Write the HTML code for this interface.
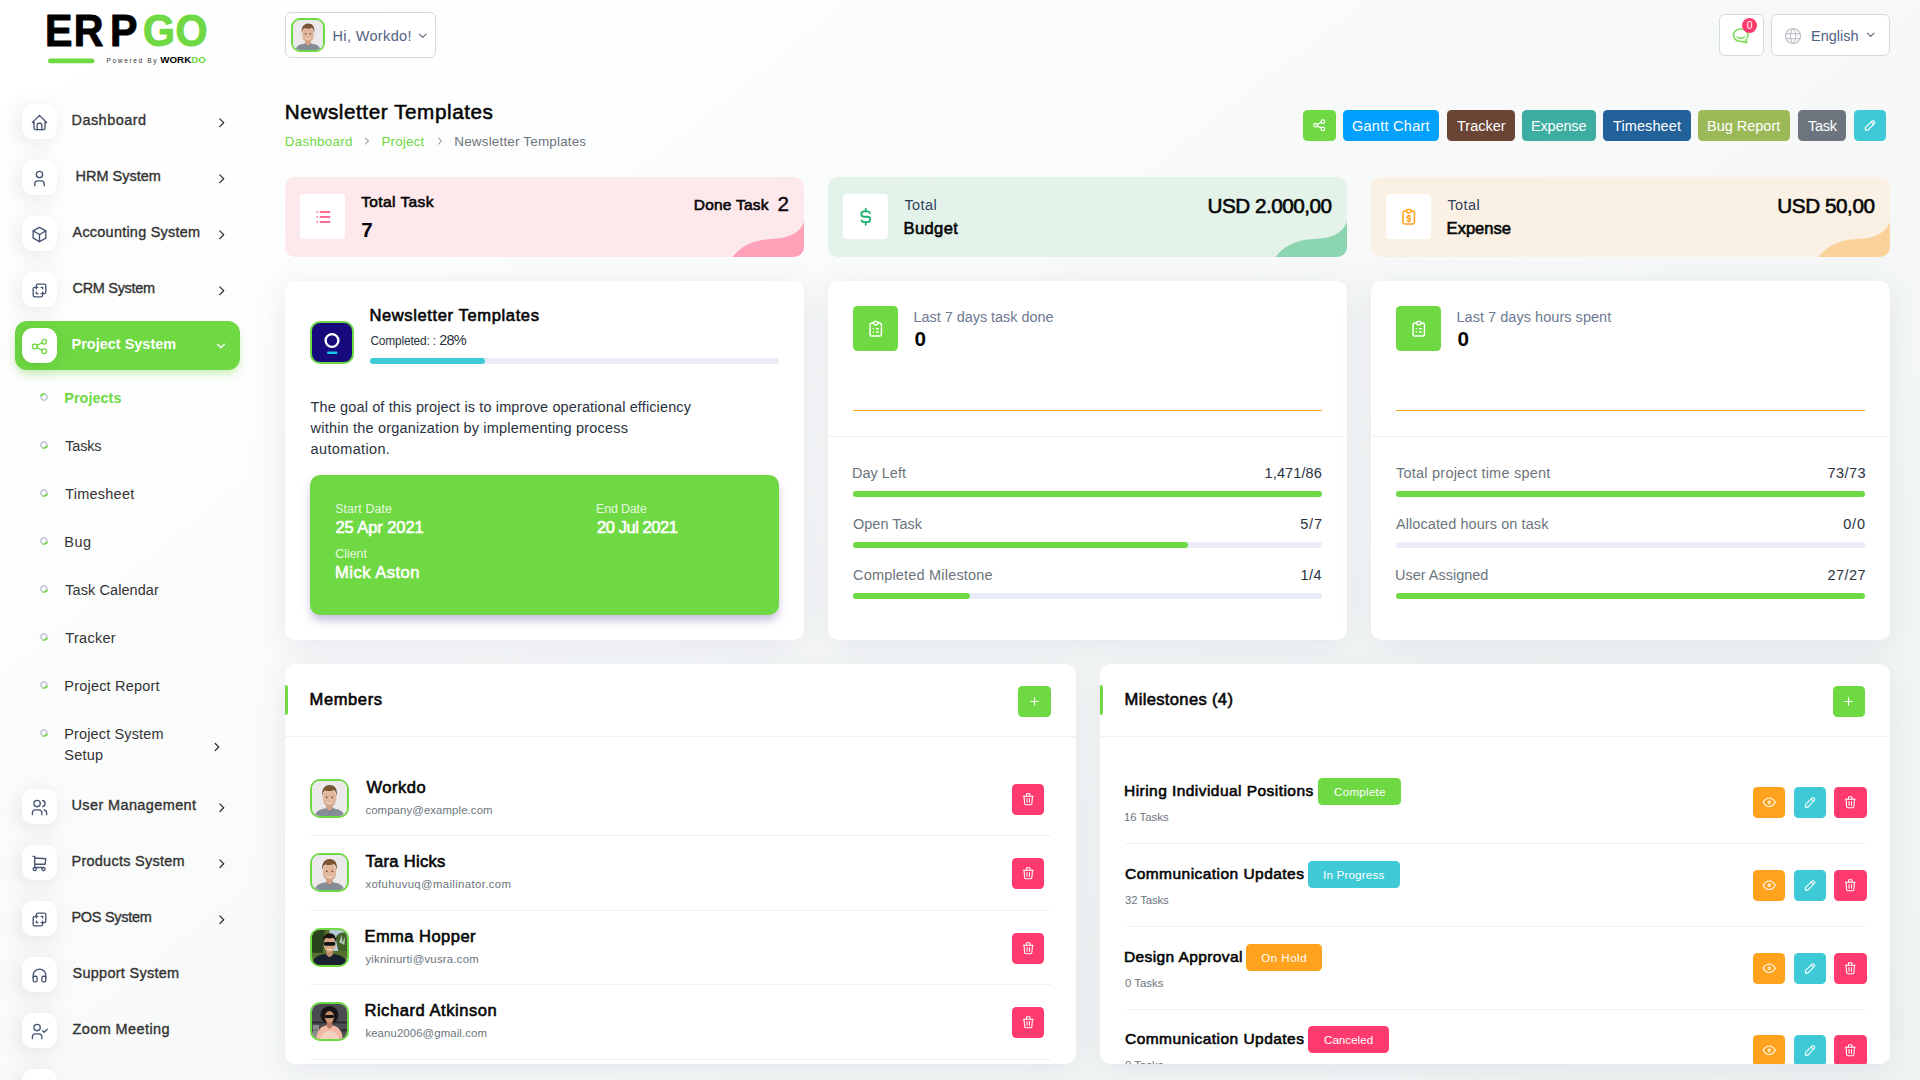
<!DOCTYPE html>
<html lang="en"><head><meta charset="utf-8"><title>Newsletter Templates</title><style>
html,body{margin:0;padding:0}
body{width:1920px;height:1080px;overflow:hidden;position:relative;font-family:"Liberation Sans",sans-serif;
background:linear-gradient(141.55deg,rgba(240,244,243,0) 3.46%,#f0f4f3 99.86%),#fff}
.b{position:absolute;display:block}
.t{position:absolute;white-space:nowrap;line-height:20px;display:block}
.ic{position:absolute;display:block;line-height:0}
.ic svg{display:block}
</style></head>
<body>
<svg class="b" style="left:40px;top:8px" width="180" height="64" viewBox="40 8 180 64"><g font-family="Liberation Sans, sans-serif" font-weight="700" stroke-linejoin="round"><text transform="translate(45 45.900) scale(.945 1)" font-size="43.500" stroke-width="1" dx="0 1.481 6.878 5.794 .661" fill="#000" stroke="#000">ERP<tspan fill="#6fd943" stroke="#6fd943">GO</tspan></text><text x="106.500" y="63" font-size="6.600" font-weight="400" textLength="50" lengthAdjust="spacing" fill="#333">Powered By</text><text x="160.300" y="63.400" font-size="8.200" textLength="45.500" lengthAdjust="spacingAndGlyphs" fill="#000">WORK<tspan fill="#6fd943">DO</tspan></text></g><rect x="48" y="58.600" width="46.500" height="4.600" rx="2.300" fill="#6fd943"/></svg>
<div class="b" style="left:22px;top:104px;width:35px;height:35px;background:#fff;border-radius:11px;box-shadow:-3px 4px 23px rgba(0,0,0,.1)"></div>
<span class="ic" style="left:30.00px;top:112.50px;width:19px;height:19px;color:#465573"><svg width="19" height="19" viewBox="0 0 24 24" fill="none" stroke="currentColor" stroke-width="1.7" stroke-linecap="round" stroke-linejoin="round" ><path d="M5 12H3l9-9 9 9h-2"/><path d="M5 12v7a2 2 0 0 0 2 2h10a2 2 0 0 0 2-2v-7"/><path d="M9 21v-6a2 2 0 0 1 2-2h2a2 2 0 0 1 2 2v6"/></svg></span>
<span class="t" id="n0" style="left:71.50px;top:110px;font-size:14.49px;color:#333;-webkit-text-stroke:.35px #333;letter-spacing:0.453px;">Dashboard</span>
<span class="ic" style="left:214.25px;top:114.95px;width:15.5px;height:15.5px;color:#333"><svg width="15.5" height="15.5" viewBox="0 0 24 24" fill="none" stroke="currentColor" stroke-width="2.1" stroke-linecap="round" stroke-linejoin="round" ><path d="M9 6l6 6-6 6"/></svg></span>
<div class="b" style="left:22px;top:160px;width:35px;height:35px;background:#fff;border-radius:11px;box-shadow:-3px 4px 23px rgba(0,0,0,.1)"></div>
<span class="ic" style="left:30.00px;top:168.50px;width:19px;height:19px;color:#465573"><svg width="19" height="19" viewBox="0 0 24 24" fill="none" stroke="currentColor" stroke-width="1.7" stroke-linecap="round" stroke-linejoin="round" ><circle cx="12" cy="7" r="4"/><path d="M6 21v-2a4 4 0 0 1 4-4h4a4 4 0 0 1 4 4v2"/></svg></span>
<span class="t" id="n1" style="left:75.50px;top:166px;font-size:14.49px;color:#333;-webkit-text-stroke:.35px #333;">HRM System</span>
<span class="ic" style="left:214.25px;top:170.95px;width:15.5px;height:15.5px;color:#333"><svg width="15.5" height="15.5" viewBox="0 0 24 24" fill="none" stroke="currentColor" stroke-width="2.1" stroke-linecap="round" stroke-linejoin="round" ><path d="M9 6l6 6-6 6"/></svg></span>
<div class="b" style="left:22px;top:216px;width:35px;height:35px;background:#fff;border-radius:11px;box-shadow:-3px 4px 23px rgba(0,0,0,.1)"></div>
<span class="ic" style="left:30.00px;top:224.50px;width:19px;height:19px;color:#465573"><svg width="19" height="19" viewBox="0 0 24 24" fill="none" stroke="currentColor" stroke-width="1.7" stroke-linecap="round" stroke-linejoin="round" ><path d="M12 3l8 4.5v9L12 21l-8-4.5v-9L12 3"/><path d="M12 12l8-4.5"/><path d="M12 12v9"/><path d="M12 12L4 7.500"/></svg></span>
<span class="t" id="n2" style="left:72.50px;top:222px;font-size:14.49px;color:#333;-webkit-text-stroke:.35px #333;letter-spacing:0.225px;">Accounting System</span>
<span class="ic" style="left:214.25px;top:226.95px;width:15.5px;height:15.5px;color:#333"><svg width="15.5" height="15.5" viewBox="0 0 24 24" fill="none" stroke="currentColor" stroke-width="2.1" stroke-linecap="round" stroke-linejoin="round" ><path d="M9 6l6 6-6 6"/></svg></span>
<div class="b" style="left:22px;top:272px;width:35px;height:35px;background:#fff;border-radius:11px;box-shadow:-3px 4px 23px rgba(0,0,0,.1)"></div>
<span class="ic" style="left:30.00px;top:280.50px;width:19px;height:19px;color:#465573"><svg width="19" height="19" viewBox="0 0 24 24" fill="none" stroke="currentColor" stroke-width="1.7" stroke-linecap="round" stroke-linejoin="round" ><path d="M16 16v2a2 2 0 0 1-2 2H6a2 2 0 0 1-2-2v-8a2 2 0 0 1 2-2h2V6a2 2 0 0 1 2-2h8a2 2 0 0 1 2 2v8a2 2 0 0 1-2 2h-2"/><path d="M10 8H8v2"/><path d="M8 14v2h2"/><path d="M14 8h2v2"/><path d="M16 14v2h-2"/></svg></span>
<span class="t" id="n3" style="left:72.50px;top:278px;font-size:14.49px;color:#333;-webkit-text-stroke:.35px #333;letter-spacing:-0.300px;">CRM System</span>
<span class="ic" style="left:214.25px;top:282.95px;width:15.5px;height:15.5px;color:#333"><svg width="15.5" height="15.5" viewBox="0 0 24 24" fill="none" stroke="currentColor" stroke-width="2.1" stroke-linecap="round" stroke-linejoin="round" ><path d="M9 6l6 6-6 6"/></svg></span>
<div class="b" style="left:15px;top:321px;width:225px;height:49px;background:#6fd943;border-radius:12px;box-shadow:0 5px 7px -1px rgba(111,217,67,.35)"></div>
<div class="b" style="left:22px;top:328px;width:35px;height:35px;background:#fff;border-radius:11px;box-shadow:-3px 4px 23px rgba(0,0,0,.1)"></div>
<span class="ic" style="left:30.00px;top:336.50px;width:19px;height:19px;color:#6fd943"><svg width="19" height="19" viewBox="0 0 24 24" fill="none" stroke="currentColor" stroke-width="1.7" stroke-linecap="round" stroke-linejoin="round" ><circle cx="6" cy="12" r="3"/><circle cx="18" cy="6" r="3"/><circle cx="18" cy="18" r="3"/><path d="M8.700 10.700l6.600-3.400"/><path d="M8.700 13.300l6.600 3.400"/></svg></span>
<span class="t" id="n4" style="left:71.50px;top:334px;font-size:14.49px;color:#fff;font-weight:700;">Project System</span>
<span class="ic" style="left:213.50px;top:338.50px;width:14px;height:14px;color:#fff"><svg width="14" height="14" viewBox="0 0 24 24" fill="none" stroke="currentColor" stroke-width="2.2" stroke-linecap="round" stroke-linejoin="round" ><path d="M6 9l6 6 6-6"/></svg></span>
<div class="b" style="left:40px;top:393.15px;width:8px;height:8px;border:2px solid #c9cfdd;border-radius:50%;box-sizing:border-box;border-top-color:#6fd943;transform:rotate(-35deg)"></div>
<span class="t" id="s0" style="left:64.30px;top:388px;font-size:14.49px;color:#6fd943;font-weight:700;">Projects</span>
<div class="b" style="left:40px;top:441.15px;width:8px;height:8px;border:2px solid #c9cfdd;border-radius:50%;box-sizing:border-box;border-bottom-color:#6fd943;transform:rotate(-35deg)"></div>
<span class="t" id="s1" style="left:65.30px;top:436px;font-size:14.49px;color:#333;letter-spacing:-0.225px;">Tasks</span>
<div class="b" style="left:40px;top:489.15px;width:8px;height:8px;border:2px solid #c9cfdd;border-radius:50%;box-sizing:border-box;border-bottom-color:#6fd943;transform:rotate(-35deg)"></div>
<span class="t" id="s2" style="left:65.30px;top:484px;font-size:14.49px;color:#333;letter-spacing:0.229px;">Timesheet</span>
<div class="b" style="left:40px;top:537.15px;width:8px;height:8px;border:2px solid #c9cfdd;border-radius:50%;box-sizing:border-box;border-bottom-color:#6fd943;transform:rotate(-35deg)"></div>
<span class="t" id="s3" style="left:64.30px;top:532px;font-size:14.49px;color:#333;letter-spacing:0.450px;">Bug</span>
<div class="b" style="left:40px;top:585.15px;width:8px;height:8px;border:2px solid #c9cfdd;border-radius:50%;box-sizing:border-box;border-bottom-color:#6fd943;transform:rotate(-35deg)"></div>
<span class="t" id="s4" style="left:65.30px;top:580px;font-size:14.49px;color:#333;letter-spacing:0.073px;">Task Calendar</span>
<div class="b" style="left:40px;top:633.15px;width:8px;height:8px;border:2px solid #c9cfdd;border-radius:50%;box-sizing:border-box;border-bottom-color:#6fd943;transform:rotate(-35deg)"></div>
<span class="t" id="s5" style="left:65.30px;top:628px;font-size:14.49px;color:#333;letter-spacing:0.300px;">Tracker</span>
<div class="b" style="left:40px;top:681.15px;width:8px;height:8px;border:2px solid #c9cfdd;border-radius:50%;box-sizing:border-box;border-bottom-color:#6fd943;transform:rotate(-35deg)"></div>
<span class="t" id="s6" style="left:64.30px;top:676px;font-size:14.49px;color:#333;letter-spacing:0.208px;">Project Report</span>
<div class="b" style="left:40px;top:729.15px;width:8px;height:8px;border:2px solid #c9cfdd;border-radius:50%;box-sizing:border-box;border-bottom-color:#6fd943;transform:rotate(-35deg)"></div>
<span class="t" id="s7" style="left:64.30px;top:724px;font-size:14.49px;color:#333;letter-spacing:0.139px;">Project System</span>
<span class="t" id="s8" style="left:64.30px;top:745px;font-size:14.49px;color:#333;letter-spacing:0.230px;">Setup</span>
<span class="ic" style="left:210.00px;top:740.00px;width:14px;height:14px;color:#333"><svg width="14" height="14" viewBox="0 0 24 24" fill="none" stroke="currentColor" stroke-width="2.2" stroke-linecap="round" stroke-linejoin="round" ><path d="M9 6l6 6-6 6"/></svg></span>
<div class="b" style="left:22px;top:789px;width:35px;height:35px;background:#fff;border-radius:11px;box-shadow:-3px 4px 23px rgba(0,0,0,.1)"></div>
<span class="ic" style="left:30.00px;top:797.50px;width:19px;height:19px;color:#465573"><svg width="19" height="19" viewBox="0 0 24 24" fill="none" stroke="currentColor" stroke-width="1.7" stroke-linecap="round" stroke-linejoin="round" ><circle cx="9" cy="7" r="4"/><path d="M3 21v-2a4 4 0 0 1 4-4h4a4 4 0 0 1 4 4v2"/><path d="M16 3.130a4 4 0 0 1 0 7.750"/><path d="M21 21v-2a4 4 0 0 0-3-3.850"/></svg></span>
<span class="t" id="n5" style="left:71.50px;top:795px;font-size:14.49px;color:#333;-webkit-text-stroke:.35px #333;letter-spacing:0.385px;">User Management</span>
<span class="ic" style="left:214.25px;top:799.95px;width:15.5px;height:15.5px;color:#333"><svg width="15.5" height="15.5" viewBox="0 0 24 24" fill="none" stroke="currentColor" stroke-width="2.1" stroke-linecap="round" stroke-linejoin="round" ><path d="M9 6l6 6-6 6"/></svg></span>
<div class="b" style="left:22px;top:845px;width:35px;height:35px;background:#fff;border-radius:11px;box-shadow:-3px 4px 23px rgba(0,0,0,.1)"></div>
<span class="ic" style="left:30.00px;top:853.50px;width:19px;height:19px;color:#465573"><svg width="19" height="19" viewBox="0 0 24 24" fill="none" stroke="currentColor" stroke-width="1.7" stroke-linecap="round" stroke-linejoin="round" ><circle cx="6" cy="19" r="2"/><circle cx="17" cy="19" r="2"/><path d="M17 17H6V3H4"/><path d="M6 5l14 1-1 7H6"/></svg></span>
<span class="t" id="n6" style="left:71.50px;top:851px;font-size:14.49px;color:#333;-webkit-text-stroke:.35px #333;letter-spacing:0.257px;">Products System</span>
<span class="ic" style="left:214.25px;top:855.95px;width:15.5px;height:15.5px;color:#333"><svg width="15.5" height="15.5" viewBox="0 0 24 24" fill="none" stroke="currentColor" stroke-width="2.1" stroke-linecap="round" stroke-linejoin="round" ><path d="M9 6l6 6-6 6"/></svg></span>
<div class="b" style="left:22px;top:901px;width:35px;height:35px;background:#fff;border-radius:11px;box-shadow:-3px 4px 23px rgba(0,0,0,.1)"></div>
<span class="ic" style="left:30.00px;top:909.50px;width:19px;height:19px;color:#465573"><svg width="19" height="19" viewBox="0 0 24 24" fill="none" stroke="currentColor" stroke-width="1.7" stroke-linecap="round" stroke-linejoin="round" ><path d="M16 16v2a2 2 0 0 1-2 2H6a2 2 0 0 1-2-2v-8a2 2 0 0 1 2-2h2V6a2 2 0 0 1 2-2h8a2 2 0 0 1 2 2v8a2 2 0 0 1-2 2h-2"/><path d="M10 8H8v2"/><path d="M8 14v2h2"/><path d="M14 8h2v2"/><path d="M16 14v2h-2"/></svg></span>
<span class="t" id="n7" style="left:71.50px;top:907px;font-size:14.49px;color:#333;-webkit-text-stroke:.35px #333;letter-spacing:-0.300px;">POS System</span>
<span class="ic" style="left:214.25px;top:911.95px;width:15.5px;height:15.5px;color:#333"><svg width="15.5" height="15.5" viewBox="0 0 24 24" fill="none" stroke="currentColor" stroke-width="2.1" stroke-linecap="round" stroke-linejoin="round" ><path d="M9 6l6 6-6 6"/></svg></span>
<div class="b" style="left:22px;top:957px;width:35px;height:35px;background:#fff;border-radius:11px;box-shadow:-3px 4px 23px rgba(0,0,0,.1)"></div>
<span class="ic" style="left:30.00px;top:965.50px;width:19px;height:19px;color:#465573"><svg width="19" height="19" viewBox="0 0 24 24" fill="none" stroke="currentColor" stroke-width="1.7" stroke-linecap="round" stroke-linejoin="round" ><rect x="4" y="13" width="5" height="7" rx="2"/><rect x="15" y="13" width="5" height="7" rx="2"/><path d="M4 15v-3a8 8 0 0 1 16 0v3"/></svg></span>
<span class="t" id="n8" style="left:72.50px;top:963px;font-size:14.49px;color:#333;-webkit-text-stroke:.35px #333;letter-spacing:0.277px;">Support System</span>
<div class="b" style="left:22px;top:1013px;width:35px;height:35px;background:#fff;border-radius:11px;box-shadow:-3px 4px 23px rgba(0,0,0,.1)"></div>
<span class="ic" style="left:30.00px;top:1021.50px;width:19px;height:19px;color:#465573"><svg width="19" height="19" viewBox="0 0 24 24" fill="none" stroke="currentColor" stroke-width="1.7" stroke-linecap="round" stroke-linejoin="round" ><circle cx="9" cy="7" r="4"/><path d="M3 21v-2a4 4 0 0 1 4-4h4a4 4 0 0 1 4 4v2"/><path d="M16 11l2 2 4-4"/></svg></span>
<span class="t" id="n9" style="left:72.50px;top:1019px;font-size:14.49px;color:#333;-webkit-text-stroke:.35px #333;letter-spacing:0.412px;">Zoom Meeting</span>
<div class="b" style="left:22px;top:1069px;width:35px;height:35px;background:#fff;border-radius:11px;box-shadow:-3px 4px 23px rgba(0,0,0,.1)"></div>
<div class="b" style="left:285px;top:12px;width:151px;height:45.5px;background:#fff;border:1px solid #d5d9e4;border-radius:6px;box-sizing:border-box"></div>
<div class="b" style="left:291px;top:18px;width:34px;height:34px;border:2px solid #6fd943;border-radius:9px;overflow:hidden;box-sizing:border-box;background:#eee"><svg width="30" height="30" viewBox="0 0 40 40"><rect width="40" height="40" fill="#ebe9e9"/><path d="M3.500 40c.5-6 6.500-8.800 16.500-8.800s16 2.800 16.500 8.800z" fill="#868d99"/><path d="M15.500 31.500l4.500 4.500 4.500-4.500-1-1.500h-7z" fill="#6f7682"/><path d="M16.300 25h7.400v6.500l-3.700 3-3.700-3z" fill="#d3a187"/><ellipse cx="20" cy="19.300" rx="7.700" ry="9.800" fill="#e2b69b"/><path d="M11.800 17.500c-1.200-8.500 2.800-13 8.400-13 5.700 0 9.400 4.300 8 13-.6-3.700-1.500-5.800-3-6.800-3 1-7.200 1-10.200.2-1.700 1.100-2.600 3.100-3.200 6.600z" fill="#7a5533"/><ellipse cx="16.800" cy="18.600" rx="1.100" ry=".8" fill="#5b4232"/><ellipse cx="23.200" cy="18.600" rx="1.100" ry=".8" fill="#5b4232"/><path d="M16 23.800c2.400 2 5.600 2 8 0-1 3-7 3-8 0z" fill="#fff"/><path d="M12.500 20c-.5 5 2.500 9.300 7.500 9.300s8-4.300 7.500-9.300c-.3 4-3 6.800-7.500 6.800s-7.200-2.800-7.500-6.800z" fill="#c99a80" opacity=".55"/></svg></div>
<span class="t" id="hi" style="left:332.50px;top:26px;font-size:14.49px;color:#4f6184;letter-spacing:0.360px;">Hi, Workdo!</span>
<span class="ic" style="left:416.05px;top:28.75px;width:13.5px;height:13.5px;color:#56647f"><svg width="13.5" height="13.5" viewBox="0 0 24 24" fill="none" stroke="currentColor" stroke-width="1.9" stroke-linecap="round" stroke-linejoin="round" ><path d="M6 9l6 6 6-6"/></svg></span>
<div class="b" style="left:1719px;top:14px;width:45px;height:42px;background:#fff;border:1px solid #d5d9e4;border-radius:6px;box-sizing:border-box"></div>
<span class="ic" style="left:1731.45px;top:26.45px;width:19.5px;height:19.5px;color:#6fd943"><svg width="19.5" height="19.5" viewBox="0 0 24 24" fill="none" stroke="currentColor" stroke-width="1.7" stroke-linecap="round" stroke-linejoin="round" ><path d="M17.802 17.292s.077-.055.200-.149c1.843-1.425 3-3.490 3-5.789 0-4.286-4.030-7.764-9-7.764s-9 3.478-9 7.764c0 4.288 4.030 7.646 9 7.646.424 0 1.120-.028 2.088-.084 1.262.820 3.104 1.493 4.716 1.493.499 0 .734-.410.414-.828-.486-.596-1.156-1.551-1.416-2.290z"/><path d="M7.500 13.500c2.500 2.500 6.500 2.500 9 0"/></svg></span>
<div class="b" style="left:1742px;top:18px;width:15.3px;height:15.3px;background:#ff3a6e;border-radius:50%"></div>
<span class="t" id="bd" style="left:1746.80px;top:16px;font-size:10.35px;color:#fff;">0</span>
<div class="b" style="left:1771px;top:14px;width:119px;height:42px;background:#fff;border:1px solid #d5d9e4;border-radius:6px;box-sizing:border-box"></div>
<span class="ic" style="left:1783.40px;top:26.10px;width:20px;height:20px;color:#c3c4cc"><svg width="20" height="20" viewBox="0 0 24 24" fill="none" stroke="currentColor" stroke-width="1.5" stroke-linecap="round" stroke-linejoin="round" ><circle cx="12" cy="12" r="9"/><path d="M3.600 9h16.800"/><path d="M3.600 15h16.800"/><path d="M11.500 3a17 17 0 0 0 0 18"/><path d="M12.500 3a17 17 0 0 1 0 18"/></svg></span>
<span class="t" id="en" style="left:1811.00px;top:26px;font-size:14.49px;color:#4f6184;">English</span>
<span class="ic" style="left:1863.55px;top:28.05px;width:13.5px;height:13.5px;color:#56647f"><svg width="13.5" height="13.5" viewBox="0 0 24 24" fill="none" stroke="currentColor" stroke-width="1.9" stroke-linecap="round" stroke-linejoin="round" ><path d="M6 9l6 6 6-6"/></svg></span>
<span class="t" id="title" style="left:284.80px;top:102px;font-size:20.7px;color:#060606;letter-spacing:0.568px;-webkit-text-stroke:.55px #060606;">Newsletter Templates</span>
<span class="t" id="bc1" style="left:284.80px;top:132px;font-size:13.45px;color:#6fd943;letter-spacing:0.229px;">Dashboard</span>
<span class="ic" style="left:361.00px;top:135.00px;width:12px;height:12px;color:#6c757d"><svg width="12" height="12" viewBox="0 0 24 24" fill="none" stroke="currentColor" stroke-width="2" stroke-linecap="round" stroke-linejoin="round" ><path d="M9 6l6 6-6 6"/></svg></span>
<span class="t" id="bc2" style="left:381.40px;top:132px;font-size:13.45px;color:#6fd943;letter-spacing:0.150px;">Project</span>
<span class="ic" style="left:434.00px;top:135.00px;width:12px;height:12px;color:#6c757d"><svg width="12" height="12" viewBox="0 0 24 24" fill="none" stroke="currentColor" stroke-width="2" stroke-linecap="round" stroke-linejoin="round" ><path d="M9 6l6 6-6 6"/></svg></span>
<span class="t" id="bc3" style="left:454.30px;top:132px;font-size:13.45px;color:#6c757d;letter-spacing:0.189px;">Newsletter Templates</span>
<div class="b" style="left:1303px;top:110px;width:33px;height:31px;background:#6fd943;border-radius:4.500px"></div>
<span class="ic" style="left:1312.25px;top:118.25px;width:14.5px;height:14.5px;color:#fff"><svg width="14.5" height="14.5" viewBox="0 0 24 24" fill="none" stroke="currentColor" stroke-width="2" stroke-linecap="round" stroke-linejoin="round" ><circle cx="6" cy="12" r="3"/><circle cx="18" cy="6" r="3"/><circle cx="18" cy="18" r="3"/><path d="M8.700 10.700l6.600-3.400"/><path d="M8.700 13.300l6.600 3.400"/></svg></span>
<div class="b" style="left:1343px;top:110px;width:96px;height:31px;background:#00a0ff;border-radius:4.500px"></div>
<span class="t" id="b1" style="left:1352.00px;top:116px;font-size:14.49px;color:#fff;letter-spacing:0.270px;">Gantt Chart</span>
<div class="b" style="left:1447px;top:110px;width:68px;height:31px;background:#6a4536;border-radius:4.500px"></div>
<span class="t" id="b2" style="left:1457.00px;top:116px;font-size:14.49px;color:#fff;">Tracker</span>
<div class="b" style="left:1522px;top:110px;width:74px;height:31px;background:#3eada1;border-radius:4.500px"></div>
<span class="t" id="b3" style="left:1531.00px;top:116px;font-size:14.49px;color:#fff;letter-spacing:-0.150px;">Expense</span>
<div class="b" style="left:1603px;top:110px;width:88px;height:31px;background:#226199;border-radius:4.500px"></div>
<span class="t" id="b4" style="left:1613.00px;top:116px;font-size:14.49px;color:#fff;letter-spacing:0.113px;">Timesheet</span>
<div class="b" style="left:1698px;top:110px;width:92px;height:31px;background:#9bb957;border-radius:4.500px"></div>
<span class="t" id="b5" style="left:1707.00px;top:116px;font-size:14.49px;color:#fff;">Bug Report</span>
<div class="b" style="left:1798px;top:110px;width:48px;height:31px;background:#6c757d;border-radius:4.500px"></div>
<span class="t" id="b6" style="left:1808.00px;top:116px;font-size:14.49px;color:#fff;letter-spacing:-0.300px;">Task</span>
<div class="b" style="left:1854px;top:110px;width:32px;height:31px;background:#3ec9d6;border-radius:4.500px"></div>
<span class="ic" style="left:1862.75px;top:118.25px;width:14.5px;height:14.5px;color:#fff"><svg width="14.5" height="14.5" viewBox="0 0 24 24" fill="none" stroke="currentColor" stroke-width="2" stroke-linecap="round" stroke-linejoin="round" ><path d="M4 20h4L18.500 9.500a1.500 1.500 0 0 0-4-4L4 16v4"/><path d="M13.500 6.500l4 4"/></svg></span>
<div class="b" style="left:285px;top:177px;width:519px;height:80px;background:#fde8ec;border-radius:10px;overflow:hidden"><svg class="b" style="left:0;top:0" width="519" height="80" viewBox="0 0 519 80"><path d="M447.500 80C458 66 473 62.500 489 61.800c15-.7 25.500-5.800 30-16.800V80z" fill="#ffa2b9"/></svg></div>
<div class="b" style="left:300px;top:194px;width:45px;height:45px;background:#fff;border-radius:4px"></div>
<span class="ic" style="left:312.70px;top:206.50px;width:20px;height:20px;color:#ff3a6e"><svg width="20" height="20" viewBox="0 0 24 24" fill="none" stroke="currentColor" stroke-width="2" stroke-linecap="round" stroke-linejoin="round" ><path d="M9 6h11"/><path d="M9 12h11"/><path d="M9 18h11"/><path d="M5 6v.01"/><path d="M5 12v.01"/><path d="M5 18v.01"/></svg></span>
<div class="b" style="left:828px;top:177px;width:519px;height:80px;background:#e3f3ea;border-radius:10px;overflow:hidden"><svg class="b" style="left:0;top:0" width="519" height="80" viewBox="0 0 519 80"><path d="M447.500 80C458 66 473 62.500 489 61.800c15-.7 25.500-5.800 30-16.800V80z" fill="#8bd5b0"/></svg></div>
<div class="b" style="left:843px;top:194px;width:45px;height:45px;background:#fff;border-radius:4px"></div>
<span class="ic" style="left:854.95px;top:205.75px;width:21.5px;height:21.5px;color:#1cb06f"><svg width="21.5" height="21.5" viewBox="0 0 24 24" fill="none" stroke="currentColor" stroke-width="2" stroke-linecap="round" stroke-linejoin="round" ><path d="M16.700 8a3 3 0 0 0-2.700-2h-4a3 3 0 0 0 0 6h4a3 3 0 0 1 0 6h-4a3 3 0 0 1-2.700-2"/><path d="M12 3v3m0 12v3"/></svg></span>
<div class="b" style="left:1371px;top:177px;width:519px;height:80px;background:#faf1e4;border-radius:10px;overflow:hidden"><svg class="b" style="left:0;top:0" width="519" height="80" viewBox="0 0 519 80"><path d="M447.500 80C458 66 473 62.500 489 61.800c15-.7 25.500-5.800 30-16.800V80z" fill="#fad29a"/></svg></div>
<div class="b" style="left:1386px;top:194px;width:45px;height:45px;background:#fff;border-radius:4px"></div>
<span class="ic" style="left:1398.95px;top:206.75px;width:19.5px;height:19.5px;color:#ffa21d"><svg width="19.5" height="19.5" viewBox="0 0 24 24" fill="none" stroke="currentColor" stroke-width="1.9" stroke-linecap="round" stroke-linejoin="round" ><path d="M9 5H7a2 2 0 0 0-2 2v12a2 2 0 0 0 2 2h10a2 2 0 0 0 2-2V7a2 2 0 0 0-2-2h-2"/><rect x="9" y="3" width="6" height="4" rx="2"/><path d="M14 11h-2.500a1.500 1.500 0 0 0 0 3h1a1.500 1.500 0 0 1 0 3H10"/><path d="M12 17v1m0-8v1"/></svg></span>
<span class="t" id="c1a" style="left:361.20px;top:192px;font-size:15.52px;color:#060606;-webkit-text-stroke:.6px #060606;letter-spacing:0.400px;">Total Task</span>
<span class="t" id="c1b" style="left:361.20px;top:220px;font-size:20.7px;color:#060606;font-weight:700;">7</span>
<span class="t" id="c1c" style="left:693.75px;top:195px;font-size:15.52px;color:#060606;-webkit-text-stroke:.6px #060606;letter-spacing:0.219px;">Done Task</span>
<span class="t" id="c1d" style="left:777.50px;top:194px;font-size:20.7px;color:#060606;-webkit-text-stroke:.35px #060606;">2</span>
<span class="t" id="c2a" style="left:904.40px;top:195px;font-size:14.49px;color:#33415c;letter-spacing:0.450px;">Total</span>
<span class="t" id="c2b" style="left:903.60px;top:219px;font-size:16.56px;color:#060606;-webkit-text-stroke:.6px #060606;letter-spacing:0.360px;">Budget</span>
<span class="t" id="c2c" style="right:588.50px;top:196px;font-size:20.7px;color:#060606;-webkit-text-stroke:.6px #060606;letter-spacing:-0.491px;">USD 2.000,00</span>
<span class="t" id="c3a" style="left:1447.40px;top:195px;font-size:14.49px;color:#33415c;letter-spacing:0.450px;">Total</span>
<span class="t" id="c3b" style="left:1446.60px;top:219px;font-size:16.56px;color:#060606;-webkit-text-stroke:.6px #060606;">Expense</span>
<span class="t" id="c3c" style="right:45.50px;top:196px;font-size:20.7px;color:#060606;-webkit-text-stroke:.6px #060606;letter-spacing:-0.450px;">USD 50,00</span>
<div class="b" style="left:285px;top:281px;width:519px;height:358.5px;background:#fff;border-radius:10px;box-shadow:0 6px 30px rgba(182,186,203,.3)"></div>
<div class="b" style="left:828px;top:281px;width:519px;height:358.5px;background:#fff;border-radius:10px;box-shadow:0 6px 30px rgba(182,186,203,.3)"></div>
<div class="b" style="left:1371px;top:281px;width:519px;height:358.5px;background:#fff;border-radius:10px;box-shadow:0 6px 30px rgba(182,186,203,.3)"></div>
<div class="b" style="left:310px;top:321px;width:44px;height:43px;border:2px solid #6fd943;border-radius:10px;box-sizing:border-box;background:#170a7d;overflow:hidden"><svg width="40" height="39" viewBox="0 0 40 39"><circle cx="20" cy="17.500" r="6.400" fill="none" stroke="#fff" stroke-width="2.400"/><rect x="15" y="28.500" width="10.500" height="2.600" rx="1.300" fill="#14c8eb"/></svg></div>
<span class="t" id="p1" style="left:369.40px;top:306px;font-size:16.56px;color:#060606;-webkit-text-stroke:.6px #060606;letter-spacing:0.614px;">Newsletter Templates</span>
<span class="t" id="p2" style="left:370.40px;top:331px;font-size:11.9px;color:#293240;letter-spacing:-0.164px;">Completed: :</span>
<span class="t" id="p3" style="left:439.20px;top:330px;font-size:14.49px;color:#293240;letter-spacing:-0.800px;">28%</span>
<div class="b" style="left:370px;top:358px;width:409px;height:6px;background:#e9ecf8;border-radius:3px"></div>
<div class="b" style="left:370px;top:358px;width:114.5px;height:6px;background:#3ec9d6;border-radius:3px"></div>
<span class="t" id="d1" style="left:310.60px;top:397px;font-size:14.49px;color:#293240;letter-spacing:0.131px;">The goal of this project is to improve operational efficiency</span>
<span class="t" id="d2" style="left:310.60px;top:418px;font-size:14.49px;color:#293240;letter-spacing:0.195px;">within the organization by implementing process</span>
<span class="t" id="d3" style="left:310.60px;top:439px;font-size:14.49px;color:#293240;letter-spacing:0.360px;">automation.</span>
<div class="b" style="left:310px;top:475px;width:469px;height:140px;background:#6fd943;border-radius:10px;box-shadow:0 6px 10px -1px rgba(81,69,157,.36)"></div>
<span class="t" id="g1" style="left:335.20px;top:499px;font-size:12.42px;color:rgba(255,255,255,.85);letter-spacing:0.100px;">Start Date</span>
<span class="t" id="g2" style="left:335.40px;top:518px;font-size:16.56px;color:#fff;-webkit-text-stroke:.6px #fff;letter-spacing:-0.090px;">25 Apr 2021</span>
<span class="t" id="g3" style="left:596.00px;top:499px;font-size:12.42px;color:rgba(255,255,255,.85);letter-spacing:-0.128px;">End Date</span>
<span class="t" id="g4" style="left:597.00px;top:518px;font-size:16.56px;color:#fff;-webkit-text-stroke:.6px #fff;letter-spacing:-0.450px;">20 Jul 2021</span>
<span class="t" id="g5" style="left:335.20px;top:544px;font-size:12.42px;color:rgba(255,255,255,.85);">Client</span>
<span class="t" id="g6" style="left:335.00px;top:563px;font-size:16.56px;color:#fff;-webkit-text-stroke:.6px #fff;letter-spacing:0.500px;">Mick Aston</span>
<div class="b" style="left:853px;top:306px;width:45px;height:45px;background:#6fd943;border-radius:4.500px"></div>
<span class="ic" style="left:865.85px;top:319.25px;width:19.5px;height:19.5px;color:#fff"><svg width="19.5" height="19.5" viewBox="0 0 24 24" fill="none" stroke="currentColor" stroke-width="1.8" stroke-linecap="round" stroke-linejoin="round" ><path d="M9 5H7a2 2 0 0 0-2 2v12a2 2 0 0 0 2 2h10a2 2 0 0 0 2-2V7a2 2 0 0 0-2-2h-2"/><rect x="9" y="3" width="6" height="4" rx="2"/><path d="M9 12h.01"/><path d="M13 12h2"/><path d="M9 16h.01"/><path d="M13 16h2"/></svg></span>
<span class="t" id="qt" style="left:913.50px;top:307px;font-size:14.49px;color:#6c7a93;letter-spacing:-0.045px;">Last 7 days task done</span>
<span class="t" id="qz" style="left:914.50px;top:329px;font-size:20.7px;color:#060606;font-weight:700;">0</span>
<div class="b" style="left:853px;top:409.5px;width:469px;height:1.2px;background:#ffa21d"></div>
<div class="b" style="left:828px;top:436px;width:519px;height:1px;background:#f1f1f1"></div>
<span class="t" id="ql0" style="left:852.00px;top:463px;font-size:14.49px;color:#6c757d;">Day Left</span>
<span class="t" id="qv0" style="right:598.00px;top:463px;font-size:14.49px;color:#293240;letter-spacing:0.129px;">1,471/86</span>
<div class="b" style="left:853px;top:491px;width:469px;height:6px;background:#e9ecf8;border-radius:3px"></div>
<div class="b" style="left:853px;top:491px;width:469px;height:6px;background:#6fd943;border-radius:3px"></div>
<span class="t" id="ql1" style="left:853.00px;top:514px;font-size:14.49px;color:#6c757d;">Open Task</span>
<span class="t" id="qv1" style="right:597.00px;top:514px;font-size:14.49px;color:#293240;letter-spacing:0.900px;">5/7</span>
<div class="b" style="left:853px;top:542px;width:469px;height:6px;background:#e9ecf8;border-radius:3px"></div>
<div class="b" style="left:853px;top:542px;width:335.0px;height:6px;background:#6fd943;border-radius:3px"></div>
<span class="t" id="ql2" style="left:853.00px;top:565px;font-size:14.49px;color:#6c757d;letter-spacing:0.200px;">Completed Milestone</span>
<span class="t" id="qv2" style="right:598.00px;top:565px;font-size:14.49px;color:#293240;letter-spacing:0.450px;">1/4</span>
<div class="b" style="left:853px;top:593px;width:469px;height:6px;background:#e9ecf8;border-radius:3px"></div>
<div class="b" style="left:853px;top:593px;width:117.25px;height:6px;background:#6fd943;border-radius:3px"></div>
<div class="b" style="left:1396px;top:306px;width:45px;height:45px;background:#6fd943;border-radius:4.500px"></div>
<span class="ic" style="left:1408.85px;top:319.25px;width:19.5px;height:19.5px;color:#fff"><svg width="19.5" height="19.5" viewBox="0 0 24 24" fill="none" stroke="currentColor" stroke-width="1.8" stroke-linecap="round" stroke-linejoin="round" ><path d="M9 5H7a2 2 0 0 0-2 2v12a2 2 0 0 0 2 2h10a2 2 0 0 0 2-2V7a2 2 0 0 0-2-2h-2"/><rect x="9" y="3" width="6" height="4" rx="2"/><path d="M9 12h.01"/><path d="M13 12h2"/><path d="M9 16h.01"/><path d="M13 16h2"/></svg></span>
<span class="t" id="rt" style="left:1456.50px;top:307px;font-size:14.49px;color:#6c7a93;letter-spacing:0.041px;">Last 7 days hours spent</span>
<span class="t" id="rz" style="left:1457.50px;top:329px;font-size:20.7px;color:#060606;font-weight:700;">0</span>
<div class="b" style="left:1396px;top:409.5px;width:469px;height:1.2px;background:#ffa21d"></div>
<div class="b" style="left:1371px;top:436px;width:519px;height:1px;background:#f1f1f1"></div>
<span class="t" id="rl0" style="left:1396.00px;top:463px;font-size:14.49px;color:#6c757d;letter-spacing:0.235px;">Total project time spent</span>
<span class="t" id="rv0" style="right:54.00px;top:463px;font-size:14.49px;color:#293240;letter-spacing:0.456px;">73/73</span>
<div class="b" style="left:1396px;top:491px;width:469px;height:6px;background:#e9ecf8;border-radius:3px"></div>
<div class="b" style="left:1396px;top:491px;width:469px;height:6px;background:#6fd943;border-radius:3px"></div>
<span class="t" id="rl1" style="left:1396.00px;top:514px;font-size:14.49px;color:#6c757d;letter-spacing:0.082px;">Allocated hours on task</span>
<span class="t" id="rv1" style="right:54.00px;top:514px;font-size:14.49px;color:#293240;letter-spacing:0.900px;">0/0</span>
<div class="b" style="left:1396px;top:542px;width:469px;height:6px;background:#e9ecf8;border-radius:3px"></div>
<span class="t" id="rl2" style="left:1395.00px;top:565px;font-size:14.49px;color:#6c757d;">User Assigned</span>
<span class="t" id="rv2" style="right:54.00px;top:565px;font-size:14.49px;color:#293240;letter-spacing:0.456px;">27/27</span>
<div class="b" style="left:1396px;top:593px;width:469px;height:6px;background:#e9ecf8;border-radius:3px"></div>
<div class="b" style="left:1396px;top:593px;width:469px;height:6px;background:#6fd943;border-radius:3px"></div>
<div class="b" style="left:285px;top:664px;width:791px;height:399.5px;background:#fff;border-radius:10px;box-shadow:0 6px 30px rgba(182,186,203,.3);overflow:hidden"></div>
<div class="b" style="left:1100px;top:664px;width:790px;height:399.5px;background:#fff;border-radius:10px;box-shadow:0 6px 30px rgba(182,186,203,.3);overflow:hidden"></div>
<div class="b" style="left:285px;top:685px;width:3px;height:30px;background:#6fd943;border-radius:0 3px 3px 0"></div>
<span class="t" id="mh" style="left:309.50px;top:690px;font-size:16.56px;color:#060606;-webkit-text-stroke:.6px #060606;letter-spacing:0.600px;">Members</span>
<div class="b" style="left:285px;top:736px;width:791px;height:1px;background:#f1f1f1"></div>
<div class="b" style="left:1100px;top:685px;width:3px;height:30px;background:#6fd943;border-radius:0 3px 3px 0"></div>
<span class="t" id="msh" style="left:1124.50px;top:690px;font-size:16.56px;color:#060606;-webkit-text-stroke:.6px #060606;letter-spacing:0.347px;">Milestones (4)</span>
<div class="b" style="left:1100px;top:736px;width:790px;height:1px;background:#f1f1f1"></div>
<div class="b" style="left:1018px;top:686px;width:33px;height:31px;background:#6fd943;border-radius:4.500px"></div>
<span class="ic" style="left:1028.00px;top:695.00px;width:13px;height:13px;color:#fff"><svg width="13" height="13" viewBox="0 0 24 24" fill="none" stroke="currentColor" stroke-width="2" stroke-linecap="round" stroke-linejoin="round" ><path d="M12 5v14"/><path d="M5 12h14"/></svg></span>
<div class="b" style="left:1832.8px;top:685.5px;width:32px;height:31px;background:#6fd943;border-radius:4.500px"></div>
<span class="ic" style="left:1842.30px;top:694.50px;width:13px;height:13px;color:#fff"><svg width="13" height="13" viewBox="0 0 24 24" fill="none" stroke="currentColor" stroke-width="2" stroke-linecap="round" stroke-linejoin="round" ><path d="M12 5v14"/><path d="M5 12h14"/></svg></span>
<div class="b" style="left:310px;top:779px;width:39px;height:39px;border:2px solid #6fd943;border-radius:10px;overflow:hidden;box-sizing:border-box;background:#eee"><svg width="35" height="35" viewBox="0 0 40 40"><rect width="40" height="40" fill="#ebe9e9"/><path d="M3.500 40c.5-6 6.500-8.800 16.500-8.800s16 2.800 16.500 8.800z" fill="#868d99"/><path d="M15.500 31.500l4.500 4.500 4.500-4.500-1-1.500h-7z" fill="#6f7682"/><path d="M16.300 25h7.400v6.500l-3.700 3-3.700-3z" fill="#d3a187"/><ellipse cx="20" cy="19.300" rx="7.700" ry="9.800" fill="#e2b69b"/><path d="M11.800 17.500c-1.200-8.500 2.800-13 8.400-13 5.700 0 9.400 4.300 8 13-.6-3.700-1.500-5.800-3-6.800-3 1-7.200 1-10.200.2-1.700 1.100-2.600 3.100-3.200 6.600z" fill="#7a5533"/><ellipse cx="16.800" cy="18.600" rx="1.100" ry=".8" fill="#5b4232"/><ellipse cx="23.200" cy="18.600" rx="1.100" ry=".8" fill="#5b4232"/><path d="M16 23.800c2.400 2 5.600 2 8 0-1 3-7 3-8 0z" fill="#fff"/><path d="M12.500 20c-.5 5 2.500 9.300 7.500 9.300s8-4.300 7.500-9.300c-.3 4-3 6.800-7.500 6.800s-7.200-2.800-7.500-6.800z" fill="#c99a80" opacity=".55"/></svg></div>
<span class="t" id="mn0" style="left:366.40px;top:778px;font-size:16.56px;color:#060606;-webkit-text-stroke:.6px #060606;letter-spacing:0.540px;">Workdo</span>
<span class="t" id="me0" style="left:365.40px;top:800px;font-size:11.38px;color:#6c757d;letter-spacing:0.100px;">company@example.com</span>
<div class="b" style="left:1012px;top:784px;width:32px;height:31px;background:#ff3a6e;border-radius:4.500px"></div>
<span class="ic" style="left:1020.75px;top:792.25px;width:14.5px;height:14.5px;color:#fff"><svg width="14.5" height="14.5" viewBox="0 0 24 24" fill="none" stroke="currentColor" stroke-width="1.8" stroke-linecap="round" stroke-linejoin="round" ><path d="M4 7h16"/><path d="M10 11v6"/><path d="M14 11v6"/><path d="M5 7l1 12a2 2 0 0 0 2 2h8a2 2 0 0 0 2-2l1-12"/><path d="M9 7V4a1 1 0 0 1 1-1h4a1 1 0 0 1 1 1v3"/></svg></span>
<div class="b" style="left:310px;top:835px;width:741px;height:1px;background:#f1f1f1"></div>
<div class="b" style="left:310px;top:853px;width:39px;height:39px;border:2px solid #6fd943;border-radius:10px;overflow:hidden;box-sizing:border-box;background:#eee"><svg width="35" height="35" viewBox="0 0 40 40"><rect width="40" height="40" fill="#ebe9e9"/><path d="M3.500 40c.5-6 6.500-8.800 16.500-8.800s16 2.800 16.500 8.800z" fill="#868d99"/><path d="M15.500 31.500l4.500 4.500 4.500-4.500-1-1.500h-7z" fill="#6f7682"/><path d="M16.300 25h7.400v6.500l-3.700 3-3.700-3z" fill="#d3a187"/><ellipse cx="20" cy="19.300" rx="7.700" ry="9.800" fill="#e2b69b"/><path d="M11.800 17.500c-1.200-8.500 2.800-13 8.400-13 5.700 0 9.400 4.300 8 13-.6-3.700-1.500-5.800-3-6.800-3 1-7.200 1-10.200.2-1.700 1.100-2.600 3.100-3.200 6.600z" fill="#7a5533"/><ellipse cx="16.800" cy="18.600" rx="1.100" ry=".8" fill="#5b4232"/><ellipse cx="23.200" cy="18.600" rx="1.100" ry=".8" fill="#5b4232"/><path d="M16 23.800c2.400 2 5.600 2 8 0-1 3-7 3-8 0z" fill="#fff"/><path d="M12.500 20c-.5 5 2.500 9.300 7.500 9.300s8-4.300 7.500-9.300c-.3 4-3 6.800-7.500 6.800s-7.200-2.800-7.500-6.800z" fill="#c99a80" opacity=".55"/></svg></div>
<span class="t" id="mn1" style="left:365.40px;top:852px;font-size:16.56px;color:#060606;-webkit-text-stroke:.6px #060606;letter-spacing:0.300px;">Tara Hicks</span>
<span class="t" id="me1" style="left:365.40px;top:874px;font-size:11.38px;color:#6c757d;letter-spacing:0.352px;">xofuhuvuq@mailinator.com</span>
<div class="b" style="left:1012px;top:858px;width:32px;height:31px;background:#ff3a6e;border-radius:4.500px"></div>
<span class="ic" style="left:1020.75px;top:866.25px;width:14.5px;height:14.5px;color:#fff"><svg width="14.5" height="14.5" viewBox="0 0 24 24" fill="none" stroke="currentColor" stroke-width="1.8" stroke-linecap="round" stroke-linejoin="round" ><path d="M4 7h16"/><path d="M10 11v6"/><path d="M14 11v6"/><path d="M5 7l1 12a2 2 0 0 0 2 2h8a2 2 0 0 0 2-2l1-12"/><path d="M9 7V4a1 1 0 0 1 1-1h4a1 1 0 0 1 1 1v3"/></svg></span>
<div class="b" style="left:310px;top:910px;width:741px;height:1px;background:#f1f1f1"></div>
<div class="b" style="left:310px;top:928px;width:39px;height:39px;border:2px solid #6fd943;border-radius:10px;overflow:hidden;box-sizing:border-box;background:#eee"><svg width="35" height="35" viewBox="0 0 40 40"><rect width="40" height="40" fill="#55702f"/><rect x="20" width="20" height="24" fill="#b5cdd6"/><path d="M0 0h15c-1 5-2 9-1 14l-2 12H0z" fill="#2b431d"/><path d="M27 9c2-5 6-7 13-6v21H30z" fill="#42602a"/><path d="M31 14l3-9 1 9 3-7-1 10z" fill="#dfe9ea" opacity=".7"/><path d="M0 40c.5-9 8-13 20-13s19.500 4 20 13z" fill="#18212d"/><path d="M16.300 22.500h7.400v6l-3.700 2.500-3.700-2.500z" fill="#c48f6d"/><ellipse cx="20" cy="16.300" rx="6.900" ry="8.700" fill="#d8a684"/><path d="M12.700 14.500c-.8-7 2.300-10.800 7.500-10.800 5.100 0 8 3.700 7.100 10.800-.9-3.300-1.900-4.800-3.300-5.600-2.500.9-5.700.9-8.100 0-1.500.9-2.500 2.500-3.200 5.600z" fill="#1b1511"/><rect x="13.300" y="13.800" width="13.400" height="4.200" rx="2" fill="#101418"/><path d="M16.800 21c1.900 1.500 4.500 1.500 6.400 0-.8 2.300-5.600 2.300-6.400 0z" fill="#fff"/></svg></div>
<span class="t" id="mn2" style="left:364.40px;top:927px;font-size:16.56px;color:#060606;-webkit-text-stroke:.6px #060606;letter-spacing:0.450px;">Emma Hopper</span>
<span class="t" id="me2" style="left:365.40px;top:949px;font-size:11.38px;color:#6c757d;letter-spacing:0.236px;">yikninurti@vusra.com</span>
<div class="b" style="left:1012px;top:933px;width:32px;height:31px;background:#ff3a6e;border-radius:4.500px"></div>
<span class="ic" style="left:1020.75px;top:941.25px;width:14.5px;height:14.5px;color:#fff"><svg width="14.5" height="14.5" viewBox="0 0 24 24" fill="none" stroke="currentColor" stroke-width="1.8" stroke-linecap="round" stroke-linejoin="round" ><path d="M4 7h16"/><path d="M10 11v6"/><path d="M14 11v6"/><path d="M5 7l1 12a2 2 0 0 0 2 2h8a2 2 0 0 0 2-2l1-12"/><path d="M9 7V4a1 1 0 0 1 1-1h4a1 1 0 0 1 1 1v3"/></svg></span>
<div class="b" style="left:310px;top:984px;width:741px;height:1px;background:#f1f1f1"></div>
<div class="b" style="left:310px;top:1002px;width:39px;height:39px;border:2px solid #6fd943;border-radius:10px;overflow:hidden;box-sizing:border-box;background:#eee"><svg width="35" height="35" viewBox="0 0 40 40"><rect width="40" height="40" fill="#4b4b52"/><rect y="20" width="40" height="2.200" fill="#2b2b30"/><rect y="29" width="40" height="2.200" fill="#2b2b30"/><rect x="1" y="24" width="7" height="16" fill="#c9c9cc" opacity=".5"/><circle cx="20" cy="12.500" r="10.300" fill="#1a1412"/><path d="M5 40c0-10 6-16 15-16s15 6 15 16z" fill="#f1b9a3"/><path d="M16.800 20h6.400v6l-3.200 2.500-3.200-2.500z" fill="#b77d60"/><ellipse cx="20" cy="14.800" rx="5.300" ry="6.800" fill="#c68c6c"/><rect x="14.800" y="12.600" width="10.400" height="3.300" rx="1.600" fill="#111113"/><path d="M17.400 18.700c1.600 1.200 3.600 1.200 5.200 0-.7 1.800-4.500 1.800-5.200 0z" fill="#fff"/><path d="M9 40c1.500-5 5-8.500 11-9.500 6 1 9.500 4.500 11 9.500z" fill="#f8d2c1"/></svg></div>
<span class="t" id="mn3" style="left:364.40px;top:1001px;font-size:16.56px;color:#060606;-webkit-text-stroke:.6px #060606;letter-spacing:0.540px;">Richard Atkinson</span>
<span class="t" id="me3" style="left:365.40px;top:1023px;font-size:11.38px;color:#6c757d;letter-spacing:0.100px;">keanu2006@gmail.com</span>
<div class="b" style="left:1012px;top:1007px;width:32px;height:31px;background:#ff3a6e;border-radius:4.500px"></div>
<span class="ic" style="left:1020.75px;top:1015.25px;width:14.5px;height:14.5px;color:#fff"><svg width="14.5" height="14.5" viewBox="0 0 24 24" fill="none" stroke="currentColor" stroke-width="1.8" stroke-linecap="round" stroke-linejoin="round" ><path d="M4 7h16"/><path d="M10 11v6"/><path d="M14 11v6"/><path d="M5 7l1 12a2 2 0 0 0 2 2h8a2 2 0 0 0 2-2l1-12"/><path d="M9 7V4a1 1 0 0 1 1-1h4a1 1 0 0 1 1 1v3"/></svg></span>
<div class="b" style="left:310px;top:1059px;width:741px;height:1px;background:#f1f1f1"></div>
<div class="b" style="left:0;top:0;width:1920px;height:1063.500px;overflow:hidden">
<span class="t" id="ln0" style="left:1124.00px;top:781px;font-size:15.52px;color:#060606;-webkit-text-stroke:.6px #060606;letter-spacing:0.447px;">Hiring Individual Positions</span>
<div class="b" style="left:1318px;top:778px;width:83px;height:27px;background:#6fd943;border-radius:4.500px"></div>
<span class="t" id="lb0" style="left:1334.00px;top:782px;font-size:11.64px;color:#fff;letter-spacing:0.258px;">Complete</span>
<span class="t" id="lt0" style="left:1124.00px;top:807px;font-size:11.38px;color:#6c757d;">16 Tasks</span>
<div class="b" style="left:1753px;top:787px;width:32px;height:31px;background:#ffa21d;border-radius:4.500px"></div>
<span class="ic" style="left:1761.75px;top:795.25px;width:14.5px;height:14.5px;color:#fff"><svg width="14.5" height="14.5" viewBox="0 0 24 24" fill="none" stroke="currentColor" stroke-width="1.8" stroke-linecap="round" stroke-linejoin="round" ><circle cx="12" cy="12" r="2"/><path d="M22 12c-2.667 4.667-6 7-10 7s-7.333-2.333-10-7c2.667-4.667 6-7 10-7s7.333 2.333 10 7"/></svg></span>
<div class="b" style="left:1794px;top:787px;width:32px;height:31px;background:#3ec9d6;border-radius:4.500px"></div>
<span class="ic" style="left:1802.75px;top:795.25px;width:14.5px;height:14.5px;color:#fff"><svg width="14.5" height="14.5" viewBox="0 0 24 24" fill="none" stroke="currentColor" stroke-width="1.8" stroke-linecap="round" stroke-linejoin="round" ><path d="M4 20h4L18.500 9.500a1.500 1.500 0 0 0-4-4L4 16v4"/><path d="M13.500 6.500l4 4"/></svg></span>
<div class="b" style="left:1834px;top:787px;width:33px;height:31px;background:#ff3a6e;border-radius:4.500px"></div>
<span class="ic" style="left:1843.25px;top:795.25px;width:14.5px;height:14.5px;color:#fff"><svg width="14.5" height="14.5" viewBox="0 0 24 24" fill="none" stroke="currentColor" stroke-width="1.8" stroke-linecap="round" stroke-linejoin="round" ><path d="M4 7h16"/><path d="M10 11v6"/><path d="M14 11v6"/><path d="M5 7l1 12a2 2 0 0 0 2 2h8a2 2 0 0 0 2-2l1-12"/><path d="M9 7V4a1 1 0 0 1 1-1h4a1 1 0 0 1 1 1v3"/></svg></span>
<div class="b" style="left:1125px;top:843.2px;width:740px;height:1px;background:#f1f1f1"></div>
<span class="t" id="ln1" style="left:1125.00px;top:864px;font-size:15.52px;color:#060606;-webkit-text-stroke:.6px #060606;letter-spacing:0.450px;">Communication Updates</span>
<div class="b" style="left:1308px;top:861px;width:92px;height:27px;background:#3ec9d6;border-radius:4.500px"></div>
<span class="t" id="lb1" style="left:1323.00px;top:865px;font-size:11.64px;color:#fff;letter-spacing:0.180px;">In Progress</span>
<span class="t" id="lt1" style="left:1125.00px;top:890px;font-size:11.38px;color:#6c757d;letter-spacing:-0.129px;">32 Tasks</span>
<div class="b" style="left:1753px;top:870px;width:32px;height:31px;background:#ffa21d;border-radius:4.500px"></div>
<span class="ic" style="left:1761.75px;top:878.25px;width:14.5px;height:14.5px;color:#fff"><svg width="14.5" height="14.5" viewBox="0 0 24 24" fill="none" stroke="currentColor" stroke-width="1.8" stroke-linecap="round" stroke-linejoin="round" ><circle cx="12" cy="12" r="2"/><path d="M22 12c-2.667 4.667-6 7-10 7s-7.333-2.333-10-7c2.667-4.667 6-7 10-7s7.333 2.333 10 7"/></svg></span>
<div class="b" style="left:1794px;top:870px;width:32px;height:31px;background:#3ec9d6;border-radius:4.500px"></div>
<span class="ic" style="left:1802.75px;top:878.25px;width:14.5px;height:14.5px;color:#fff"><svg width="14.5" height="14.5" viewBox="0 0 24 24" fill="none" stroke="currentColor" stroke-width="1.8" stroke-linecap="round" stroke-linejoin="round" ><path d="M4 20h4L18.500 9.500a1.500 1.500 0 0 0-4-4L4 16v4"/><path d="M13.500 6.500l4 4"/></svg></span>
<div class="b" style="left:1834px;top:870px;width:33px;height:31px;background:#ff3a6e;border-radius:4.500px"></div>
<span class="ic" style="left:1843.25px;top:878.25px;width:14.5px;height:14.5px;color:#fff"><svg width="14.5" height="14.5" viewBox="0 0 24 24" fill="none" stroke="currentColor" stroke-width="1.8" stroke-linecap="round" stroke-linejoin="round" ><path d="M4 7h16"/><path d="M10 11v6"/><path d="M14 11v6"/><path d="M5 7l1 12a2 2 0 0 0 2 2h8a2 2 0 0 0 2-2l1-12"/><path d="M9 7V4a1 1 0 0 1 1-1h4a1 1 0 0 1 1 1v3"/></svg></span>
<div class="b" style="left:1125px;top:926.2px;width:740px;height:1px;background:#f1f1f1"></div>
<span class="t" id="ln2" style="left:1124.00px;top:947px;font-size:15.52px;color:#060606;-webkit-text-stroke:.6px #060606;letter-spacing:0.385px;">Design Approval</span>
<div class="b" style="left:1246px;top:944px;width:75.5px;height:27px;background:#ffa21d;border-radius:4.500px"></div>
<span class="t" id="lb2" style="left:1261.25px;top:948px;font-size:11.64px;color:#fff;letter-spacing:0.450px;">On Hold</span>
<span class="t" id="lt2" style="left:1125.00px;top:973px;font-size:11.38px;color:#6c757d;">0 Tasks</span>
<div class="b" style="left:1753px;top:952.5px;width:32px;height:31px;background:#ffa21d;border-radius:4.500px"></div>
<span class="ic" style="left:1761.75px;top:960.75px;width:14.5px;height:14.5px;color:#fff"><svg width="14.5" height="14.5" viewBox="0 0 24 24" fill="none" stroke="currentColor" stroke-width="1.8" stroke-linecap="round" stroke-linejoin="round" ><circle cx="12" cy="12" r="2"/><path d="M22 12c-2.667 4.667-6 7-10 7s-7.333-2.333-10-7c2.667-4.667 6-7 10-7s7.333 2.333 10 7"/></svg></span>
<div class="b" style="left:1794px;top:952.5px;width:32px;height:31px;background:#3ec9d6;border-radius:4.500px"></div>
<span class="ic" style="left:1802.75px;top:960.75px;width:14.5px;height:14.5px;color:#fff"><svg width="14.5" height="14.5" viewBox="0 0 24 24" fill="none" stroke="currentColor" stroke-width="1.8" stroke-linecap="round" stroke-linejoin="round" ><path d="M4 20h4L18.500 9.500a1.500 1.500 0 0 0-4-4L4 16v4"/><path d="M13.500 6.500l4 4"/></svg></span>
<div class="b" style="left:1834px;top:952.5px;width:33px;height:31px;background:#ff3a6e;border-radius:4.500px"></div>
<span class="ic" style="left:1843.25px;top:960.75px;width:14.5px;height:14.5px;color:#fff"><svg width="14.5" height="14.5" viewBox="0 0 24 24" fill="none" stroke="currentColor" stroke-width="1.8" stroke-linecap="round" stroke-linejoin="round" ><path d="M4 7h16"/><path d="M10 11v6"/><path d="M14 11v6"/><path d="M5 7l1 12a2 2 0 0 0 2 2h8a2 2 0 0 0 2-2l1-12"/><path d="M9 7V4a1 1 0 0 1 1-1h4a1 1 0 0 1 1 1v3"/></svg></span>
<div class="b" style="left:1125px;top:1009.2px;width:740px;height:1px;background:#f1f1f1"></div>
<span class="t" id="ln3" style="left:1125.00px;top:1029px;font-size:15.52px;color:#060606;-webkit-text-stroke:.6px #060606;letter-spacing:0.450px;">Communication Updates</span>
<div class="b" style="left:1308px;top:1026px;width:81px;height:27px;background:#ff3a6e;border-radius:4.500px"></div>
<span class="t" id="lb3" style="left:1324.00px;top:1030px;font-size:11.64px;color:#fff;">Canceled</span>
<span class="t" id="lt3" style="left:1125.00px;top:1055px;font-size:11.38px;color:#6c757d;">0 Tasks</span>
<div class="b" style="left:1753px;top:1035px;width:32px;height:31px;background:#ffa21d;border-radius:4.500px"></div>
<span class="ic" style="left:1761.75px;top:1043.25px;width:14.5px;height:14.5px;color:#fff"><svg width="14.5" height="14.5" viewBox="0 0 24 24" fill="none" stroke="currentColor" stroke-width="1.8" stroke-linecap="round" stroke-linejoin="round" ><circle cx="12" cy="12" r="2"/><path d="M22 12c-2.667 4.667-6 7-10 7s-7.333-2.333-10-7c2.667-4.667 6-7 10-7s7.333 2.333 10 7"/></svg></span>
<div class="b" style="left:1794px;top:1035px;width:32px;height:31px;background:#3ec9d6;border-radius:4.500px"></div>
<span class="ic" style="left:1802.75px;top:1043.25px;width:14.5px;height:14.5px;color:#fff"><svg width="14.5" height="14.5" viewBox="0 0 24 24" fill="none" stroke="currentColor" stroke-width="1.8" stroke-linecap="round" stroke-linejoin="round" ><path d="M4 20h4L18.500 9.500a1.500 1.500 0 0 0-4-4L4 16v4"/><path d="M13.500 6.500l4 4"/></svg></span>
<div class="b" style="left:1834px;top:1035px;width:33px;height:31px;background:#ff3a6e;border-radius:4.500px"></div>
<span class="ic" style="left:1843.25px;top:1043.25px;width:14.5px;height:14.5px;color:#fff"><svg width="14.5" height="14.5" viewBox="0 0 24 24" fill="none" stroke="currentColor" stroke-width="1.8" stroke-linecap="round" stroke-linejoin="round" ><path d="M4 7h16"/><path d="M10 11v6"/><path d="M14 11v6"/><path d="M5 7l1 12a2 2 0 0 0 2 2h8a2 2 0 0 0 2-2l1-12"/><path d="M9 7V4a1 1 0 0 1 1-1h4a1 1 0 0 1 1 1v3"/></svg></span>
</div>
</body></html>
